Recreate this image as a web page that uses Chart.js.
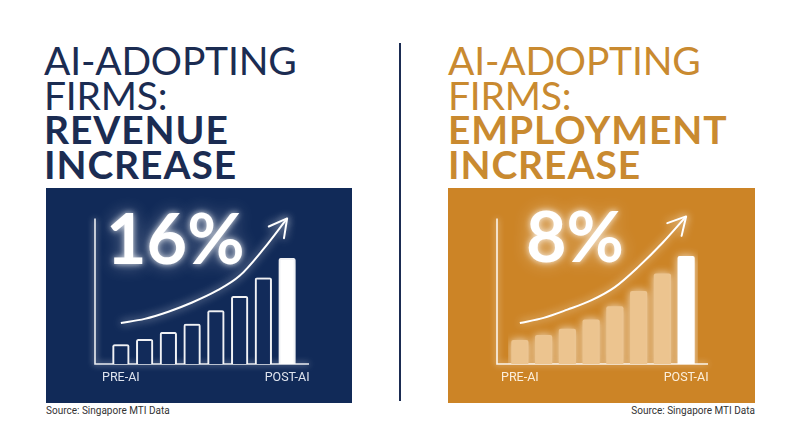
<!DOCTYPE html>
<html>
<head>
<meta charset="utf-8">
<script src="https://cdn.jsdelivr.net/npm/chart.js@4.4.1/dist/chart.umd.min.js"></script>
<style>
  html, body { margin: 0; padding: 0; background: #fff; }
  #page { position: relative; width: 800px; height: 447px; overflow: hidden; }
  .title { position: absolute; top: 43px; font-family: Lato, "Open Sans", sans-serif; font-size: 39px; line-height: 34.5px; }
  .title span { display: block; }
  .title .light { font-weight: 400; letter-spacing: -0.2px; }
  .title .bold { font-weight: 700; letter-spacing: 0.9px; }
  #titleLeft { left: 44px; color: #1b2c52; }
  #titleRight { left: 448px; color: #c98a30; }
  #divider { position: absolute; left: 399px; top: 43px; width: 2px; height: 358px; background: #1b2c52; }
  .box { position: absolute; top: 188px; height: 215px; }
  #boxLeft { left: 46px; width: 306px; background: #112a58; }
  #boxRight { left: 448px; width: 307px; background: #cc8426; }
  .box canvas { display: block; }
  .big { position: absolute; font-family: Lato, "Open Sans", sans-serif; font-weight: 700; font-size: 70px; line-height: 70px; color: #fff;
         text-shadow: 0 0 6px rgba(255,255,255,0.85), 0 0 18px rgba(255,255,255,0.45); pointer-events: none; }
  .src { position: absolute; top: 405px; font-family: "Liberation Sans Narrow", Roboto, sans-serif; font-size: 10px; color: #333; }
</style>
</head>
<body>
<div id="page">
  <div class="title" id="titleLeft"><span class="light">AI-ADOPTING</span><span class="light">FIRMS:</span><span class="bold">REVENUE</span><span class="bold">INCREASE</span></div>
  <div id="divider"></div>
  <div class="title" id="titleRight"><span class="light">AI-ADOPTING</span><span class="light">FIRMS:</span><span class="bold">EMPLOYMENT</span><span class="bold">INCREASE</span></div>

  <div class="box" id="boxLeft"><canvas id="revenueChart"></canvas></div>
  <div class="box" id="boxRight"><canvas id="employmentChart"></canvas></div>

  <div class="big" id="bigLeft" style="left:106px; top:202px;"></div>
  <div class="big" id="bigRight" style="left:526px; top:200px;"></div>

  <div class="src" style="left:46px;">Source: Singapore MTI Data</div>
  <div class="src" style="right:45px;">Source: Singapore MTI Data</div>
</div>
<script>
// values (bar heights in arbitrary units)
const categories = ["PRE-AI", "", "", "", "", "", "", "POST-AI"];
const revenueBars = [19, 24, 31, 39, 52, 66, 84, 103];
const revenueTrend = [40, 44, 51, 60, 71, 86, 112, 142];
const employmentBars = [23, 28, 34, 43, 56, 71, 88, 105];
const employmentTrend = [40, 45, 53, 62, 75, 95, 118, 144];
const revenueIncrease = "16%";
const employmentIncrease = "8%";

document.getElementById("bigLeft").textContent = revenueIncrease;
document.getElementById("bigRight").textContent = employmentIncrease;

// draws the hand-drawn style axes and the arrow head on the trend line
const decorPlugin = {
  id: "decor",
  beforeDatasetsDraw(chart, args, opts) {
    let ctx = chart.ctx;
    let area = chart.chartArea;
    let y = chart.scales.y;
    let x0 = area.left - opts.gap;
    ctx.save();
    ctx.strokeStyle = "rgba(255,255,255,0.9)";
    ctx.lineWidth = 1.6;
    ctx.shadowColor = "rgba(255,255,255,0.8)";
    ctx.shadowBlur = 6;
    ctx.beginPath();
    ctx.moveTo(x0, y.getPixelForValue(opts.axisTop));
    ctx.lineTo(x0, area.bottom);
    ctx.lineTo(area.right + opts.overhang, area.bottom);
    ctx.stroke();
    ctx.restore();
    ctx.save();
    ctx.shadowColor = "rgba(255,255,255,0.75)";
    ctx.shadowBlur = 8;
  },
  afterDatasetsDraw(chart) {
    let ctx = chart.ctx;
    ctx.restore();
    let meta = chart.getDatasetMeta(1);
    let pts = meta.data;
    let last = pts[pts.length - 1];
    let prev = pts[pts.length - 2];
    let cx = last.cp1x !== undefined ? last.cp1x : prev.x;
    let cy = last.cp1y !== undefined ? last.cp1y : prev.y;
    let ang = Math.atan2(last.y - cy, last.x - cx);
    let len = 20, spread = 0.5;
    ctx.save();
    ctx.strokeStyle = "#fff";
    ctx.lineWidth = 2;
    ctx.lineCap = "round";
    ctx.lineJoin = "round";
    ctx.shadowColor = "rgba(255,255,255,0.8)";
    ctx.shadowBlur = 8;
    ctx.beginPath();
    ctx.moveTo(last.x - len * Math.cos(ang - spread), last.y - len * Math.sin(ang - spread));
    ctx.lineTo(last.x, last.y);
    ctx.lineTo(last.x - len * Math.cos(ang + spread), last.y - len * Math.sin(ang + spread));
    ctx.stroke();
    ctx.restore();
  }
};

function makeChart(id, bars, trend, barFill, barBorder, tickColor, pad) {
  let ctx = document.getElementById(id).getContext("2d");
  return new Chart(ctx, {
    type: "bar",
    data: {
      labels: categories,
      datasets: [
        {
          type: "bar",
          data: bars,
          backgroundColor: bars.map((v, i) => i === bars.length - 1 ? "#ffffff" : barFill),
          borderColor: barBorder,
          borderWidth: barBorder ? 2 : 0,
          borderRadius: 2,
          borderSkipped: "bottom",
          barThickness: 16.5,
          order: 1
        },
        {
          type: "line",
          data: trend,
          borderColor: "#ffffff",
          borderWidth: 2,
          pointRadius: 0,
          cubicInterpolationMode: "monotone",
          order: 0
        }
      ]
    },
    options: {
      responsive: true,
      maintainAspectRatio: false,
      animation: false,
      layout: { padding: pad },
      plugins: {
        legend: { display: false },
        tooltip: { enabled: false },
        decor: { gap: pad.left - 49, axisTop: 142, overhang: 10 }
      },
      scales: {
        x: {
          grid: { display: false, drawTicks: false },
          border: { display: false },
          ticks: {
            autoSkip: false,
            maxRotation: 0,
            padding: 6,
            color: tickColor,
            font: { family: "Roboto", size: 12.5 }
          }
        },
        y: { display: false, min: 0, max: 160 }
      }
    },
    plugins: [decorPlugin]
  });
}

makeChart("revenueChart", revenueBars, revenueTrend, "#122b5a", "rgba(255,255,255,0.9)", "#dfe4ee",
  { left: 63, right: 53, top: 12, bottom: 12 });
makeChart("employmentChart", employmentBars, employmentTrend, "#ecc48f", null, "#fcefdc",
  { left: 60, right: 57, top: 12, bottom: 12 });
</script>
</body>
</html>
